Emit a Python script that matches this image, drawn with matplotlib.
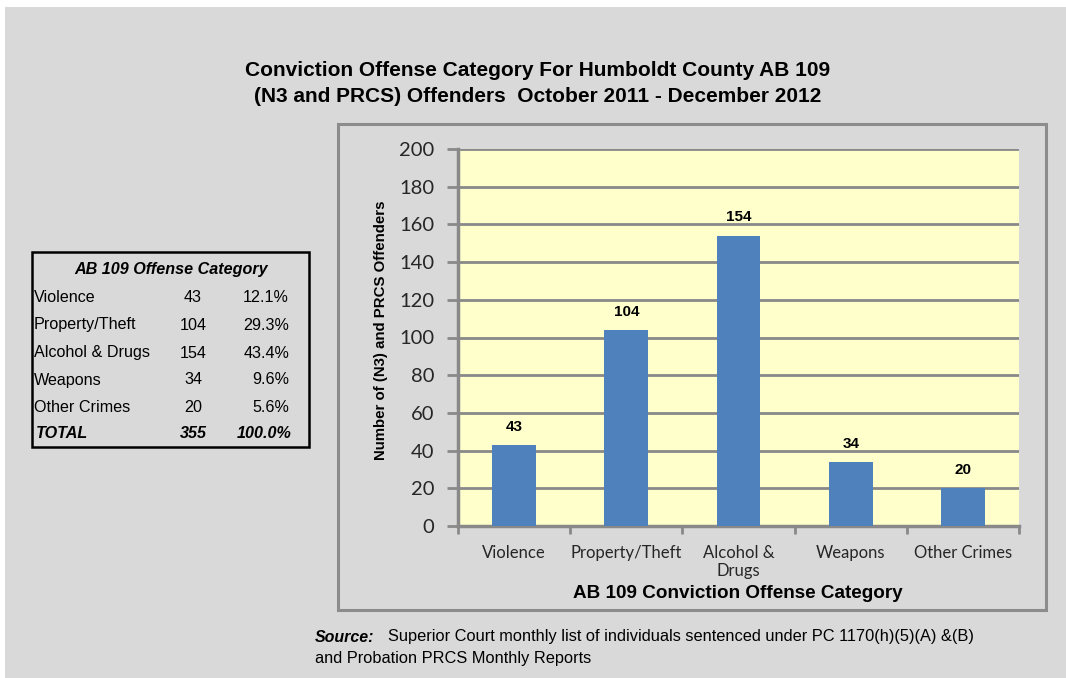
import matplotlib
matplotlib.use('Agg')
import matplotlib.pyplot as plt
from matplotlib.patches import Rectangle
import numpy as np

categories = ['Violence', 'Property/Theft', 'Alcohol &\nDrugs', 'Weapons', 'Other Crimes']
offenders = [43, 104, 154, 34, 20]

table_names = ['Violence', 'Property/Theft', 'Alcohol & Drugs', 'Weapons', 'Other Crimes']
table_counts = [43, 104, 154, 34, 20]
table_pcts = ['12.1%', '29.3%', '43.4%', '9.6%', '5.6%']
total_count = 355
total_pct = '100.0%'

W, H = 1066, 678
fig = plt.figure(figsize=(W / 100, H / 100), dpi=100)
fig.patch.set_facecolor('white')

def fx(px):
    return px / W

def fy(py):
    return 1 - py / H

# grey page background
fig.patches.append(Rectangle((fx(5), 0), 1, fy(7), transform=fig.transFigure,
                             facecolor='#d9d9d9', edgecolor='none', zorder=-2))
# chart frame
fig.patches.append(Rectangle((fx(338), fy(610)), fx(708), 486 / H, transform=fig.transFigure,
                             facecolor='none', edgecolor='#8c8c8c', linewidth=2.2, zorder=-1))

fig.text(fx(538), fy(70), 'Conviction Offense Category For Humboldt County AB 109',
         ha='center', va='center', fontsize=15, fontweight='bold', family='Liberation Sans')
fig.text(fx(538), fy(96), '(N3 and PRCS) Offenders  October 2011 - December 2012',
         ha='center', va='center', fontsize=15, fontweight='bold', family='Liberation Sans')

ax = fig.add_axes([fx(458), fy(526), 561 / W, 377 / H])
ax.set_zorder(2)
ax.set_facecolor('#ffffcc')
x = np.arange(len(categories))
bars = ax.bar(x, offenders, width=0.39, color='#4f81bd', zorder=3)
for xi, v in zip(x, offenders):
    ax.text(xi, v + 6, str(v), ha='center', va='bottom', fontsize=11,
            fontweight='bold', family='Liberation Sans')

ax.set_ylim(0, 200)
ax.set_xlim(-0.5, len(categories) - 0.5)
ax.set_yticks(range(0, 201, 20))
ax.yaxis.grid(True, color='#898989', linewidth=2, zorder=1)
ax.set_axisbelow(True)
ax.tick_params(axis='y', length=8, width=2, color='#898989', labelsize=14.5, pad=9)
for lbl in ax.get_yticklabels():
    lbl.set_family('Lato')
    lbl.set_color('#262626')

ax.set_xticks(np.arange(-0.5, len(categories)), labels=[''] * (len(categories) + 1))
ax.tick_params(axis='x', which='major', length=6, width=2, color='#898989')
ax.set_xticks(x, labels=categories, minor=True)
ax.tick_params(axis='x', which='minor', length=0, labelsize=12, pad=14)
for lbl in ax.get_xticklabels(minor=True):
    lbl.set_family('Lato')
    lbl.set_color('#262626')
    lbl.set_linespacing(1.1)

for side in ['top', 'right']:
    ax.spines[side].set_visible(False)
for side in ['left', 'bottom']:
    ax.spines[side].set_color('#898989')
    ax.spines[side].set_linewidth(2.5)

fig.text(fx(381), fy(330), 'Number of (N3) and PRCS Offenders', rotation=90,
         ha='center', va='center', fontsize=10.8, fontweight='bold', family='Liberation Sans')
fig.text(fx(738), fy(593), 'AB 109 Conviction Offense Category',
         ha='center', va='center', fontsize=13.6, fontweight='bold', family='Liberation Sans')

# summary table on the left
fig.patches.append(Rectangle((fx(32), fy(447)), fx(277), 195 / H, transform=fig.transFigure,
                             facecolor='none', edgecolor='black', linewidth=1.8, zorder=2))
tfont = dict(fontsize=11.6, family='Liberation Sans', va='center')
fig.text(fx(171), fy(270), 'AB 109 Offense Category', ha='center', fontweight='bold',
         style='italic', **tfont)
rows_y = [297, 325, 353, 380, 407]
for yy, name, cnt, pct in zip(rows_y, table_names, table_counts, table_pcts):
    fig.text(fx(34), fy(yy), name, ha='left', **tfont)
    fig.text(fx(193), fy(yy), str(cnt), ha='center', **tfont)
    fig.text(fx(289), fy(yy), pct, ha='right', **tfont)
fig.text(fx(36), fy(434), 'TOTAL', ha='left', fontweight='bold', style='italic', **tfont)
fig.text(fx(193), fy(434), str(total_count), ha='center', fontweight='bold', style='italic', **tfont)
fig.text(fx(292), fy(434), total_pct, ha='right', fontweight='bold', style='italic', **tfont)

# source note
fig.text(fx(315), fy(637), 'Source:', ha='left', va='center', fontsize=11.5,
         fontweight='bold', style='italic', family='Liberation Sans')
fig.text(fx(388), fy(637), 'Superior Court monthly list of individuals sentenced under PC 1170(h)(5)(A) &(B)',
         ha='left', va='center', fontsize=11.8, family='Liberation Sans')
fig.text(fx(315), fy(659), 'and Probation PRCS Monthly Reports', ha='left', va='center',
         fontsize=11.8, family='Liberation Sans')

fig.savefig('out.png', dpi=100)
